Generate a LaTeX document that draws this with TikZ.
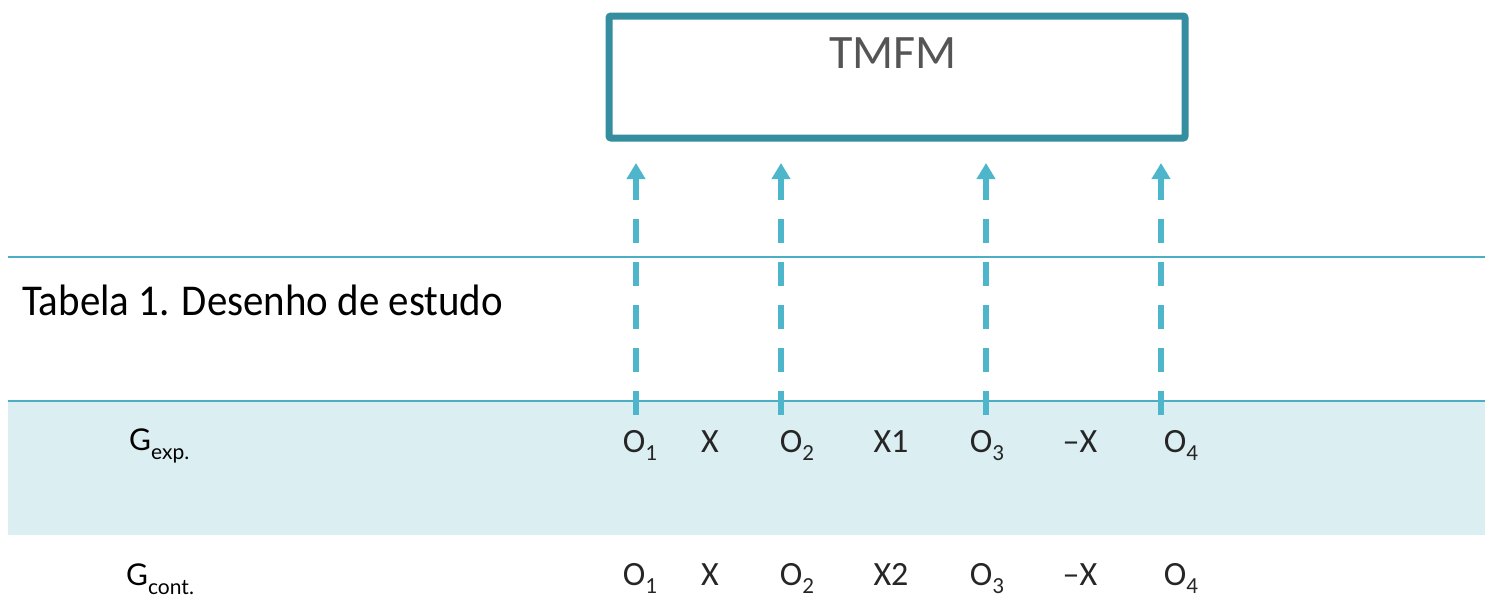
\documentclass[tikz,border=0pt]{standalone}
\usepackage{fontspec}
\setmainfont{Carlito}
\newfontfamily\gfont{Lato}
\newfontfamily\titlefont{Carlito}[FakeStretch=0.93]
\usetikzlibrary{arrows.meta,shadows,calc}
\definecolor{boxteal}{HTML}{358EA0}
\definecolor{arrowblue}{HTML}{4DB6CA}
\definecolor{rulecol}{HTML}{4BAEC4}
\definecolor{bandfill}{HTML}{DBEEF2}
\definecolor{tmfmgray}{HTML}{555555}
\newcommand{\lowsub}[1]{\raisebox{-0.25em}{\fontsize{23}{23}\selectfont #1}}
\newcommand{\gsub}[1]{\raisebox{-0.3em}{\fontsize{21}{21}\selectfont #1}}
\tikzset{
  obs/.style={font=\fontsize{34}{34}\selectfont, text=black!85, inner sep=0pt, anchor=base},
  grp/.style={font=\gfont\fontsize{30}{30}\selectfont, text=black, inner sep=0pt, anchor=base west},
  mfbox/.style={draw=boxteal, line width=7pt, fill=white, rounded corners=2pt,
    drop shadow={shadow xshift=2pt, shadow yshift=-3pt, opacity=0.25, fill=black}},
  obsarrow/.style={draw=arrowblue, line width=6pt, dash pattern=on 24pt off 19pt,
    -{Triangle[width=18pt,length=16pt]}},
  hrule/.style={draw=rulecol, line width=2pt}
}
\begin{document}
\begin{tikzpicture}[x=1pt,y=-1pt]
\useasboundingbox (0,0) rectangle (1485,597);
% band
\fill[bandfill] (8,401) rectangle (1485,535);
\draw[hrule] (8,257) -- (1485,257);
\draw[hrule] (8,401) -- (1485,401);
% box
\node[mfbox, minimum width=576pt, minimum height=122pt, anchor=north west] (tmfm) at (605.5,12.5) {};
\node[font=\fontsize{48}{48}\selectfont, text=tmfmgray, anchor=base] (tmfmlabel) at (893,68) {TMFM};
% title
\node[font=\titlefont\fontsize{44}{44}\selectfont, anchor=base west, inner sep=0pt] (title) at (22,315) {Tabela 1. Desenho de estudo};
% groups
\node[grp] (gexp) at (129,450) {G\gsub{exp.}};
\node[grp] (gcont) at (126,585) {G\gsub{cont.}};
% row 1
\node[obs] (e1) at (640,452) {O\lowsub{1}};
\node[obs] (e2) at (710,452) {X};
\node[obs] (e3) at (797,452) {O\lowsub{2}};
\node[obs] (e4) at (891,452) {X1};
\node[obs] (e5) at (987,452) {O\lowsub{3}};
\node[obs] (e6) at (1080,452) {--X};
\node[obs] (e7) at (1181,452) {O\lowsub{4}};
% row 2
\node[obs] (c1) at (640,585) {O\lowsub{1}};
\node[obs] (c2) at (710,585) {X};
\node[obs] (c3) at (797,585) {O\lowsub{2}};
\node[obs] (c4) at (891,585) {X2};
\node[obs] (c5) at (987,585) {O\lowsub{3}};
\node[obs] (c6) at (1080,585) {--X};
\node[obs] (c7) at (1181,585) {O\lowsub{4}};
% arrows
\foreach \i/\x in {1/636,2/781,3/986,4/1161}{
  \coordinate (b\i) at (\x,415);
  \coordinate (t\i) at (\x,163);
  \draw[obsarrow] (b\i) -- (t\i);
}
\end{tikzpicture}
\end{document}
